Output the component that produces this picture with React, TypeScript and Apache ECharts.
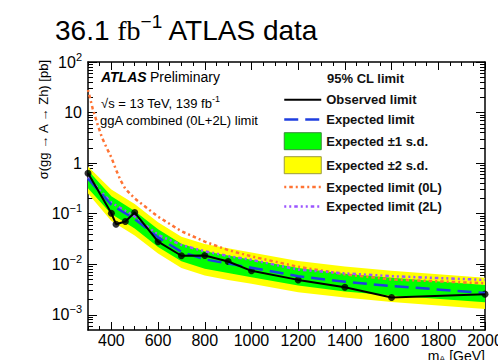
import React, { useEffect, useRef } from "react";
import * as echarts from "echarts";

const FONT = '"Liberation Sans", Arial, Helvetica, sans-serif';

// Observed limit
const massObs = [300, 400, 420, 460, 500, 600, 700, 800, 900, 1000, 1200, 1400, 1600, 2000];
const observed = [0.63, 0.102, 0.062, 0.07, 0.105, 0.028, 0.0147, 0.0149, 0.0113, 0.0074, 0.0049, 0.0035, 0.0022, 0.00256];

// Expected limit and bands
const massExp = [300, 400, 500, 600, 700, 800, 900, 1000, 1200, 1400, 1600, 2000];
const expected = [0.49, 0.15, 0.078, 0.034, 0.0175, 0.0125, 0.0103, 0.0085, 0.0058, 0.0045, 0.0037, 0.0027];
const plus1 = [0.72, 0.22, 0.113, 0.049, 0.0254, 0.0181, 0.0149, 0.0123, 0.0084, 0.0065, 0.0054, 0.0039];
const minus1 = [0.32, 0.098, 0.051, 0.022, 0.0114, 0.0081, 0.0067, 0.0055, 0.0038, 0.0029, 0.0024, 0.00176];
const plus2 = [0.86, 0.3, 0.156, 0.068, 0.035, 0.025, 0.0206, 0.017, 0.0116, 0.009, 0.0074, 0.0054];
const minus2 = [0.25, 0.072, 0.037, 0.0163, 0.0084, 0.006, 0.0049, 0.0041, 0.0028, 0.0022, 0.00178, 0.0013];

// Expected limit (0L)
const mass0L = [300, 320, 340, 360, 380, 400, 420, 440, 460, 500, 600, 700, 800, 900, 1000, 1200, 1400, 1600, 2000];
const exp0L = [28, 12, 6, 3.2, 2.0, 1.3, 0.74, 0.45, 0.31, 0.2, 0.087, 0.045, 0.028, 0.019, 0.0143, 0.0089, 0.0063, 0.005, 0.0042];

// Expected limit (2L)
const mass2L = [300, 400, 500, 600, 700, 800, 900, 1000, 1200, 1400, 1600, 2000];
const exp2L = [0.52, 0.165, 0.088, 0.038, 0.024, 0.018, 0.0145, 0.0122, 0.0078, 0.0066, 0.0058, 0.0049];

// Axis ticks
const xMajor = [400, 600, 800, 1000, 1200, 1400, 1600, 1800, 2000];
const xMinor = [300, 350, 450, 500, 550, 650, 700, 750, 850, 900, 950, 1050, 1100, 1150, 1250, 1300, 1350, 1450, 1500, 1550, 1650, 1700, 1750, 1850, 1900, 1950];
const yMajor = [0.001, 0.01, 0.1, 1, 10, 100];
const X_MIN = 300;
const X_MAX = 2000;
const Y_MIN = 0.0005;
const Y_MAX = 100;

function buildYMinor(): number[] {
  const out: number[] = [];
  for (let k = -4; k <= 1; k++) {
    for (let d = 2; d <= 9; d++) {
      const v = parseFloat((d * Math.pow(10, k)).toPrecision(3));
      if (v > Y_MIN * 1.0001 && v < Y_MAX) out.push(v);
    }
  }
  return out;
}

const zip = (xs: number[], ys: number[]) => xs.map((x, i) => [x, ys[i]]);

function bandSeries(name: string, lo: number[], hi: number[], color: string) {
  return {
    name,
    type: "custom",
    coordinateSystem: "cartesian2d",
    xAxisIndex: 0,
    yAxisIndex: 0,
    data: massExp.map((m, i) => [m, lo[i], hi[i]]),
    encode: { x: 0, y: [1, 2] },
    itemStyle: { color },
    silent: true,
    clip: true,
    renderItem: (params: any, api: any) => {
      if (params.dataIndex !== 0) return null;
      const top = massExp.map((m, i) => api.coord([m, hi[i]]));
      const bot = massExp.map((m, i) => api.coord([m, lo[i]])).reverse();
      return {
        type: "polygon",
        shape: { points: top.concat(bot) },
        style: { fill: color, stroke: "none" },
      };
    },
  };
}

export default function App() {
  const ref = useRef<HTMLDivElement>(null);
  useEffect(() => {
    if (!ref.current) return;
    const chart = echarts.init(ref.current, undefined, { renderer: "svg" });
    const yMinor = buildYMinor();
    const frame = { show: true, onZero: false, lineStyle: { color: "#000", width: 1.5 } };
    const tickLine = { color: "#000", width: 1 };
    const xBase = { type: "value", min: X_MIN, max: X_MAX, splitLine: { show: false } };
    const yBase = { type: "log", logBase: 10, min: Y_MIN, max: Y_MAX, splitLine: { show: false } };

    const yFmt = (v: number) => {
      const e = Math.round(Math.log10(v));
      if (e === 0) return "{b|1}";
      if (e === 1) return "{b|10}";
      return "{b|10}{s|" + (e < 0 ? "\u2212" + -e : String(e)) + "}";
    };

    const option: any = {
      animation: false,
      backgroundColor: "#fff",
      grid: { left: 88, right: 13, top: 62, bottom: 30, containLabel: false, outerBoundsMode: "none" },
      xAxis: [
        {
          ...xBase,
          position: "bottom",
          axisLine: frame,
          axisTick: { show: true, inside: true, length: 8, customValues: xMajor, lineStyle: tickLine },
          axisLabel: {
            show: true,
            customValues: xMajor,
            margin: 2,
            fontSize: 16,
            lineHeight: 16,
            color: "#000",
            fontFamily: FONT,
            formatter: (v: number) => String(v),
            showMinLabel: true,
            showMaxLabel: true,
            hideOverlap: false,
          },
        },
        {
          ...xBase,
          position: "bottom",
          axisLine: { show: false, onZero: false },
          axisTick: { show: true, inside: true, length: 4, customValues: xMinor, lineStyle: tickLine },
          axisLabel: { show: false },
        },
        {
          ...xBase,
          position: "top",
          axisLine: frame,
          axisTick: { show: true, inside: true, length: 8, customValues: xMajor, lineStyle: tickLine },
          axisLabel: { show: false },
        },
        {
          ...xBase,
          position: "top",
          axisLine: { show: false, onZero: false },
          axisTick: { show: true, inside: true, length: 4, customValues: xMinor, lineStyle: tickLine },
          axisLabel: { show: false },
        },
      ],
      yAxis: [
        {
          ...yBase,
          position: "left",
          axisLine: frame,
          axisTick: { show: true, inside: true, length: 9, customValues: yMajor, lineStyle: tickLine },
          axisLabel: {
            show: true,
            customValues: yMajor,
            margin: 6,
            color: "#000",
            fontFamily: FONT,
            formatter: yFmt,
            rich: {
              b: { fontSize: 16, fontFamily: FONT, color: "#000", lineHeight: 22, verticalAlign: "middle" },
              s: { fontSize: 11, fontFamily: FONT, color: "#000", lineHeight: 11, verticalAlign: "top" },
            },
          },
        },
        {
          ...yBase,
          position: "left",
          axisLine: { show: false, onZero: false },
          axisTick: { show: true, inside: true, length: 5, customValues: yMinor, lineStyle: tickLine },
          axisLabel: { show: false },
        },
        {
          ...yBase,
          position: "right",
          axisLine: frame,
          axisTick: { show: true, inside: true, length: 9, customValues: yMajor, lineStyle: tickLine },
          axisLabel: { show: false },
        },
        {
          ...yBase,
          position: "right",
          axisLine: { show: false, onZero: false },
          axisTick: { show: true, inside: true, length: 5, customValues: yMinor, lineStyle: tickLine },
          axisLabel: { show: false },
        },
      ],
      legend: {
        orient: "vertical",
        left: 283,
        top: 93,
        itemWidth: 37,
        itemHeight: 17,
        itemGap: 6,
        padding: 0,
        selectedMode: false,
        textStyle: { fontFamily: FONT, fontSize: 13, fontWeight: "bold", color: "#111" },
        data: [
          { name: "Observed limit", itemStyle: { opacity: 0 }, lineStyle: { width: 2 } },
          { name: "Expected limit", itemStyle: { opacity: 0 }, lineStyle: { width: 2.5 } },
          { name: "Expected \u00b11 s.d.", icon: "rect", itemStyle: { color: "#00ff00", borderColor: "#3a8a3a", borderWidth: 1, opacity: 1 } },
          { name: "Expected \u00b12 s.d.", icon: "rect", itemStyle: { color: "#ffff00", borderColor: "#9a9a40", borderWidth: 1, opacity: 1 } },
          { name: "Expected limit (0L)", itemStyle: { opacity: 0 }, lineStyle: { width: 2.5 } },
          { name: "Expected limit (2L)", itemStyle: { opacity: 0 }, lineStyle: { width: 2.5 } },
        ],
      },
      graphic: [
        {
          type: "text",
          x: 55,
          y: 30,
          z: 100,
          style: {
            text: "{a|36.1 }{f|fb}{s|\u22121}{a| ATLAS data}",
            verticalAlign: "middle",
            align: "left",
            rich: {
              a: { fontFamily: FONT, fontSize: 28, fill: "#000", lineHeight: 36, verticalAlign: "middle" },
              f: { fontFamily: '"Liberation Serif", "Times New Roman", serif', fontSize: 28, fill: "#000", lineHeight: 36, verticalAlign: "middle" },
              s: { fontFamily: FONT, fontSize: 19, fill: "#000", lineHeight: 24, verticalAlign: "top" },
            },
          },
        },
        {
          type: "text",
          x: 101,
          y: 77,
          z: 100,
          style: {
            text: "{b|ATLAS} {n|Preliminary}",
            verticalAlign: "middle",
            rich: {
              b: { fontFamily: FONT, fontSize: 14, fontWeight: "bold", fontStyle: "italic", fill: "#000" },
              n: { fontFamily: FONT, fontSize: 14, fill: "#000" },
            },
          },
        },
        {
          type: "text",
          x: 101,
          y: 103,
          z: 100,
          style: {
            text: "{n|\u221as = 13 TeV, 139 fb}{s|-1}",
            verticalAlign: "middle",
            rich: {
              n: { fontFamily: FONT, fontSize: 13, fill: "#000", lineHeight: 18, verticalAlign: "middle" },
              s: { fontFamily: FONT, fontSize: 9, fill: "#000", lineHeight: 11, verticalAlign: "top" },
            },
          },
        },
        {
          type: "text",
          x: 100,
          y: 120,
          z: 100,
          style: { text: "ggA combined (0L+2L) limit", fontFamily: FONT, fontSize: 13, fill: "#000", verticalAlign: "middle" },
        },
        {
          type: "text",
          x: 327,
          y: 78,
          z: 100,
          style: { text: "95% CL limit", fontFamily: FONT, fontSize: 13, fontWeight: "bold", fill: "#111", verticalAlign: "middle" },
        },
        {
          type: "text",
          x: 43,
          y: 60,
          z: 100,
          rotation: Math.PI / 2,
          style: {
            text: "\u03c3(gg \u2192 A \u2192 Zh) [pb]",
            fontFamily: FONT,
            fontSize: 13,
            fill: "#000",
            align: "right",
            verticalAlign: "middle",
          },
        },
        {
          type: "text",
          x: 485,
          y: 356,
          z: 100,
          style: {
            text: "{n|m}{s|A}{n| [GeV]}",
            align: "right",
            verticalAlign: "middle",
            rich: {
              n: { fontFamily: FONT, fontSize: 14, fill: "#000", lineHeight: 14, verticalAlign: "middle" },
              s: { fontFamily: FONT, fontSize: 9, fill: "#000", lineHeight: 9, verticalAlign: "bottom" },
            },
          },
        },
      ],
      series: [
        bandSeries("Expected \u00b12 s.d.", minus2, plus2, "#ffff00"),
        bandSeries("Expected \u00b11 s.d.", minus1, plus1, "#00ff00"),
        {
          name: "Expected limit (0L)",
          type: "line",
          data: zip(mass0L, exp0L),
          symbol: "none",
          itemStyle: { color: "#ff7333" },
          lineStyle: { color: "#ff7333", width: 2.5, type: [2, 3, 3.5, 3] },
        },
        {
          name: "Expected limit (2L)",
          type: "line",
          data: zip(mass2L, exp2L),
          symbol: "none",
          itemStyle: { color: "#9b55ff" },
          lineStyle: { color: "#9b55ff", width: 2.5, type: [2, 3, 2, 3, 3.5, 3] },
        },
        {
          name: "Expected limit",
          type: "line",
          data: zip(massExp, expected),
          symbol: "none",
          itemStyle: { color: "#1f3fe0" },
          lineStyle: { color: "#1f3fe0", width: 2.5, type: [14, 7] },
        },
        {
          name: "Observed limit",
          type: "line",
          data: zip(massObs, observed),
          symbol: "none",
          itemStyle: { color: "#000" },
          lineStyle: { color: "#000", width: 2 },
        },
        {
          name: "obsPoints",
          type: "scatter",
          data: zip(massObs, observed),
          symbol: "circle",
          symbolSize: 7,
          itemStyle: { color: "#000" },
          silent: true,
        },
      ],
    };
    chart.setOption(option);
    return () => chart.dispose();
  }, []);
  return <div ref={ref} style={{ width: 498, height: 360, position: "absolute", left: 0, top: 0 }} />;
}
